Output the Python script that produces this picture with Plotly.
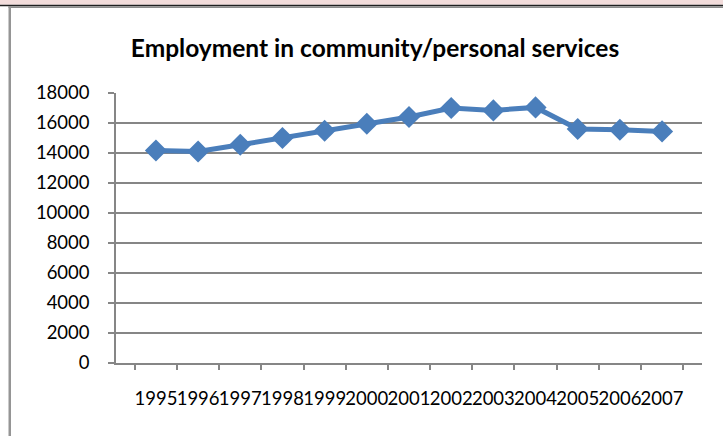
import plotly.graph_objects as go

years = ["1995", "1996", "1997", "1998", "1999", "2000", "2001",
         "2002", "2003", "2004", "2005", "2006", "2007"]
employment = [14170, 14100, 14550, 15000, 15480, 15950, 16400,
              17000, 16840, 17040, 15600, 15550, 15440]
y_ticks = [0, 2000, 4000, 6000, 8000, 10000, 12000, 14000, 16000, 18000]
y_tick_text = ["0", "2000", "4000", "6000", "8000", "10000", "12000",
               "14000", "16000", "18000"]

W, H = 723, 436
L, R, T, B = 116, 702, 93.3, 363.3

def px(x):
    return (x - L) / (R - L)

def py(y):
    return (B - y) / (B - T)

fig = go.Figure()
fig.add_trace(go.Scatter(
    x=years, y=employment, mode="lines+markers",
    line=dict(color="#4A7EBB", width=5),
    marker=dict(symbol="diamond", size=17, color="#4A7EBB"),
    showlegend=False,
))

shapes = [
    dict(type="rect", xref="paper", yref="paper", x0=px(-5), x1=px(730), y0=py(-5), y1=py(5),
         fillcolor="#F2DCDB", line=dict(width=0), layer="above"),
    dict(type="rect", xref="paper", yref="paper", x0=px(-5), x1=px(730), y0=py(5), y1=py(6.5),
         fillcolor="#202020", line=dict(width=0), layer="above"),
    dict(type="rect", xref="paper", yref="paper", x0=px(8.5), x1=px(730), y0=py(6.5), y1=py(8.3),
         fillcolor="#8C8C8C", line=dict(width=0), layer="above"),
    dict(type="rect", xref="paper", yref="paper", x0=px(8.5), x1=px(11), y0=py(6.5), y1=py(440),
         fillcolor="#959595", line=dict(width=0), layer="above"),
]

fig.update_layout(
    width=W, height=H,
    margin=dict(l=L, r=W - R, t=T, b=H - B),
    paper_bgcolor="white", plot_bgcolor="white",
    font=dict(family="Lato", size=18.5, color="black"),
    title=dict(text="<b>Employment in community/personal services</b>",
               font=dict(family="Lato", size=24.5, color="black"),
               x=375 / W, xanchor="center", xref="container",
               y=1 - 48 / H, yanchor="middle", yref="container"),
    shapes=shapes,
)
fig.update_xaxes(
    type="category", tickson="boundaries", ticks="outside", ticklen=5,
    tickcolor="#868686", tickwidth=1.5,
    showline=True, linecolor="#868686", linewidth=1.5,
    showgrid=False, ticklabelstandoff=18,
    tickfont=dict(family="Lato", size=18.5), tickangle=0,
)
fig.update_yaxes(
    range=[0, 18000], tickvals=y_ticks, ticktext=y_tick_text,
    ticks="outside", ticklen=6,
    tickcolor="#868686", tickwidth=1.5,
    showline=True, linecolor="#868686", linewidth=1.5,
    showgrid=True, gridcolor="#868686", gridwidth=1.5,
    zeroline=False, ticklabelstandoff=15,
    tickfont=dict(family="Lato", size=18.5),
)

fig.write_html("out.html")
